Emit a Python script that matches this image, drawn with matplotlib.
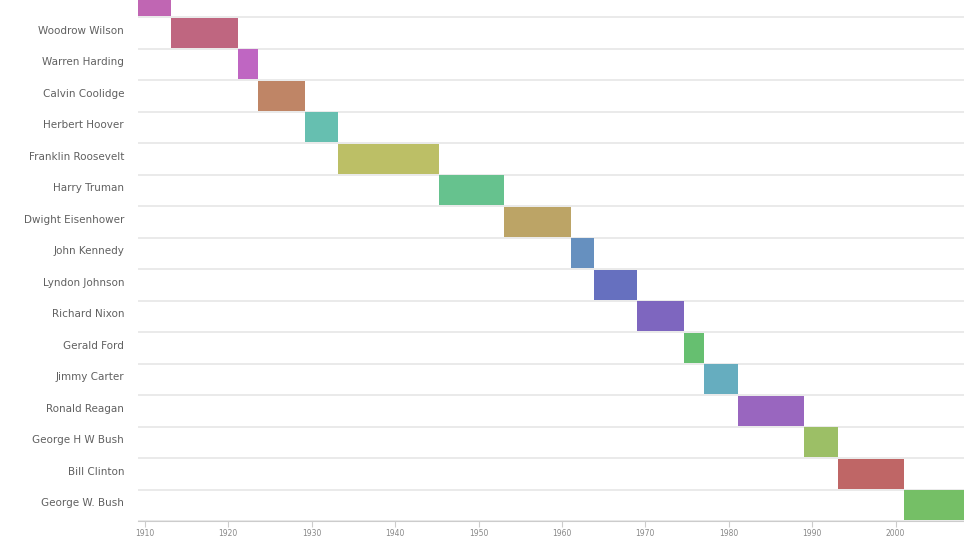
import datetime as dt
import matplotlib
matplotlib.use('Agg')
import matplotlib.pyplot as plt
import matplotlib.dates as mdates
import matplotlib.transforms as mtransforms

# 大統領と在任期間
names = ['William Taft', 'Woodrow Wilson', 'Warren Harding', 'Calvin Coolidge',
         'Herbert Hoover', 'Franklin Roosevelt', 'Harry Truman', 'Dwight Eisenhower',
         'John Kennedy', 'Lyndon Johnson', 'Richard Nixon', 'Gerald Ford',
         'Jimmy Carter', 'Ronald Reagan', 'George H W Bush', 'Bill Clinton',
         'George W. Bush']
starts = ['1909-03-04', '1913-03-04', '1921-03-04', '1923-08-02', '1929-03-04',
          '1933-03-04', '1945-04-12', '1953-01-20', '1961-01-20', '1963-11-22',
          '1969-01-20', '1974-08-09', '1977-01-20', '1981-01-20', '1989-01-20',
          '1993-01-20', '2001-01-20']
ends = ['1913-03-04', '1921-03-04', '1923-08-02', '1929-03-04', '1933-03-04',
        '1945-04-12', '1953-01-20', '1961-01-20', '1963-11-22', '1969-01-20',
        '1974-08-09', '1977-01-20', '1981-01-20', '1989-01-20', '1993-01-20',
        '2001-01-20', '2009-01-20']
colors = ['#c066b3', '#bf6680', '#bf66c2', '#bf8566', '#66bfb0', '#bcbf66',
          '#66c28e', '#bca466', '#6690bf', '#6670bf', '#7e66bf', '#66bf70',
          '#66adbf', '#9966bf', '#9cbf66', '#bf6666', '#75bf66']


def to_num(s):
    return mdates.date2num(dt.datetime.strptime(s, '%Y-%m-%d'))


W, H = 964, 537
fig = plt.figure(figsize=(W / 100, H / 100), dpi=100)
ax = fig.add_axes([138 / W, 16 / H, 1 - 138 / W, 521 / H])

for i, (s, e, c) in enumerate(zip(starts, ends, colors)):
    x0 = to_num(s)
    ax.barh(i, to_num(e) - x0, left=x0, height=0.94, color=c, linewidth=0)

# 行の境界線
for i in range(len(names)):
    ax.axhline(i + 0.5, color='#e8e8e8', linewidth=1.3, zorder=0)

ax.set_ylim(16.5, -0.04)
ax.set_xlim(mdates.date2num(dt.datetime(1909, 3, 4)),
            mdates.date2num(dt.datetime(2008, 3, 18)))

ax.set_yticks(range(len(names)))
ax.set_yticklabels(names, fontsize=7.5, color='#606060')
ax.tick_params(axis='y', length=0, pad=10)
# ラベルを少し上にずらす
shift = mtransforms.ScaledTranslation(0, 3 / 100, fig.dpi_scale_trans)
for lab in ax.get_yticklabels():
    lab.set_transform(lab.get_transform() + shift)
# 一番上の行は画面外でラベルが見えない
ax.get_yticklabels()[0].set_visible(False)

ax.xaxis.set_major_locator(mdates.YearLocator(10))
ax.xaxis.set_major_formatter(mdates.DateFormatter('%Y'))
ax.tick_params(axis='x', length=4, color='#cccccc', labelsize=5.5,
               labelcolor='#888888', pad=1.5)

for side in ['top', 'right', 'left']:
    ax.spines[side].set_visible(False)
ax.spines['bottom'].set_color('#cccccc')

fig.savefig('out.png', dpi=100)
